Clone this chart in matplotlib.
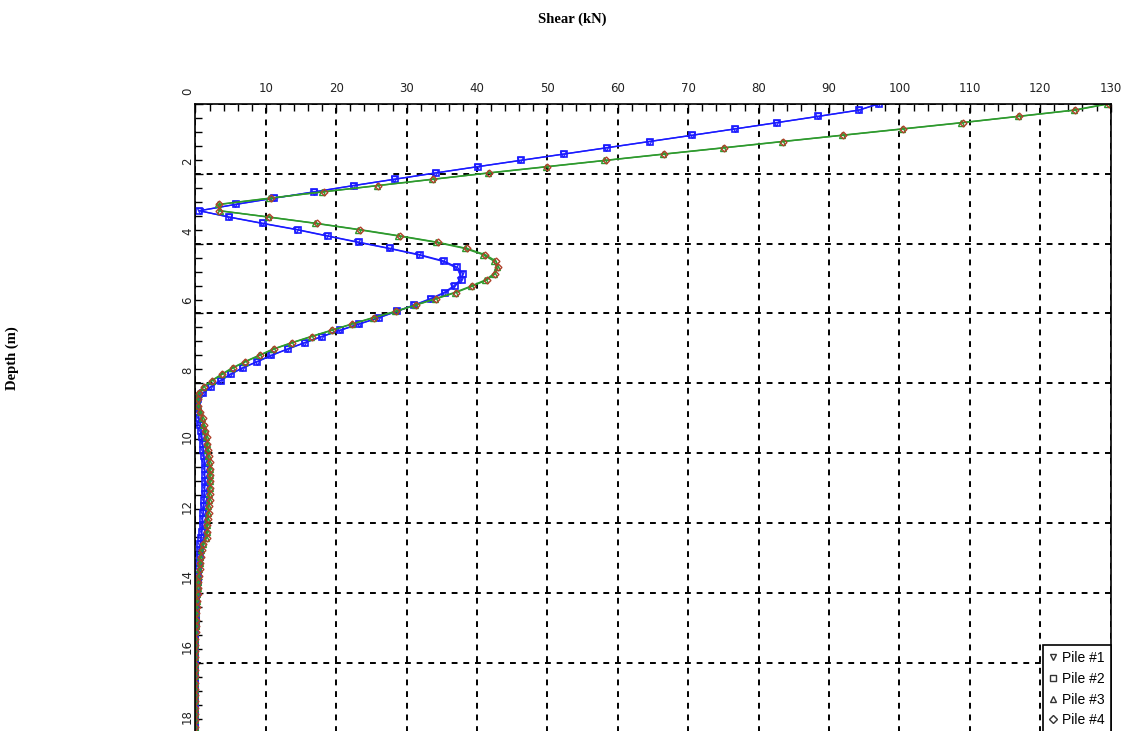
import numpy as np
import matplotlib.pyplot as plt
import matplotlib.transforms as mtransforms
from matplotlib.lines import Line2D
from matplotlib.ticker import MultipleLocator

# pile nodes: 100 equal segments over the 18 m pile
depth = np.linspace(0.0, 18.0, 101)

pile1_shear = [
    97.0, 94.2, 88.4, 82.5, 76.6, 70.5, 64.4, 58.3, 52.2, 46.1,
    40.0, 34.0, 28.2, 22.4, 16.8, 11.1, 5.6, 0.6, 4.7, 9.4,
    14.3, 18.6, 23.0, 27.5, 31.6, 35.0, 36.9, 37.7, 37.6, 36.6,
    35.3, 33.3, 31.0, 28.5, 26.0, 23.2, 20.5, 17.9, 15.4, 13.0,
    10.7, 8.7, 6.6, 4.9, 3.5, 2.1, 1.0, 0.3, 0.2, 0.3,
    0.5, 0.7, 0.8, 0.9, 1.0, 1.1, 1.2, 1.2, 1.3, 1.3,
    1.3, 1.3, 1.2, 1.2, 1.1, 1.1, 1.0, 0.9, 0.9, 0.8,
    0.7, 0.6, 0.5, 0.5, 0.4, 0.3, 0.3, 0.2, 0.2, 0.1,
    0.1, 0.1, 0.1, 0.1, 0.0, 0.0, 0.0, 0.0, 0.0, 0.0,
    0.0, 0.0, 0.0, 0.0, 0.0, 0.0, 0.0, 0.0, 0.0, 0.0,
    0.0,
]

pile2_shear = [
    97.1, 94.3, 88.5, 82.6, 76.6, 70.6, 64.5, 58.4, 52.3, 46.2,
    40.1, 34.1, 28.3, 22.5, 16.9, 11.2, 5.7, 0.5, 4.8, 9.6,
    14.5, 18.8, 23.2, 27.7, 31.9, 35.3, 37.2, 38.0, 37.8, 36.8,
    35.5, 33.5, 31.1, 28.6, 26.1, 23.3, 20.6, 18.0, 15.5, 13.1,
    10.8, 8.8, 6.7, 5.0, 3.6, 2.2, 1.1, 0.4, 0.2, 0.3,
    0.5, 0.7, 0.8, 0.9, 1.0, 1.1, 1.2, 1.3, 1.3, 1.3,
    1.4, 1.3, 1.3, 1.2, 1.2, 1.1, 1.0, 1.0, 0.9, 0.8,
    0.7, 0.6, 0.6, 0.5, 0.4, 0.4, 0.3, 0.2, 0.2, 0.1,
    0.1, 0.1, 0.1, 0.1, 0.0, 0.0, 0.0, 0.0, 0.0, 0.0,
    0.0, 0.0, 0.0, 0.0, 0.0, 0.0, 0.0, 0.0, 0.0, 0.0,
    0.0,
]

pile3_shear = [
    129.5, 124.8, 116.8, 108.8, 100.3, 91.8, 83.3, 74.9, 66.4, 58.1,
    49.8, 41.5, 33.6, 25.8, 18.0, 10.5, 3.2, 3.5, 10.3, 17.0,
    23.1, 28.8, 34.1, 38.3, 40.9, 42.4, 42.8, 42.4, 41.2, 39.1,
    36.8, 34.0, 31.2, 28.4, 25.2, 22.2, 19.3, 16.4, 13.6, 11.0,
    9.0, 7.0, 5.2, 3.7, 2.3, 1.1, 0.4, 0.2, 0.4, 0.7,
    0.9, 1.1, 1.3, 1.5, 1.6, 1.7, 1.8, 1.9, 2.0, 2.0,
    2.0, 2.0, 1.9, 1.9, 1.8, 1.8, 1.7, 1.6, 1.6, 1.5,
    1.0, 0.8, 0.7, 0.6, 0.5, 0.4, 0.3, 0.3, 0.2, 0.2,
    0.1, 0.1, 0.1, 0.1, 0.0, 0.0, 0.0, 0.0, 0.0, 0.0,
    0.0, 0.0, 0.0, 0.0, 0.0, 0.0, 0.0, 0.0, 0.0, 0.0,
    0.0,
]

pile4_shear = [
    129.8, 125.0, 117.0, 109.0, 100.5, 92.0, 83.5, 75.1, 66.6, 58.3,
    50.0, 41.7, 33.8, 26.0, 18.2, 10.7, 3.4, 3.3, 10.5, 17.2,
    23.4, 29.1, 34.4, 38.6, 41.2, 42.7, 43.0, 42.6, 41.4, 39.3,
    37.0, 34.2, 31.3, 28.5, 25.3, 22.3, 19.4, 16.5, 13.7, 11.1,
    9.1, 7.1, 5.3, 3.8, 2.4, 1.2, 0.5, 0.3, 0.4, 0.7,
    1.0, 1.2, 1.4, 1.6, 1.7, 1.8, 1.9, 2.0, 2.1, 2.1,
    2.1, 2.1, 2.0, 2.0, 1.9, 1.9, 1.8, 1.7, 1.7, 1.6,
    1.1, 0.9, 0.8, 0.7, 0.6, 0.5, 0.4, 0.3, 0.3, 0.2,
    0.2, 0.1, 0.1, 0.1, 0.1, 0.0, 0.0, 0.0, 0.0, 0.0,
    0.0, 0.0, 0.0, 0.0, 0.0, 0.0, 0.0, 0.0, 0.0, 0.0,
    0.0,
]

pile_labels = ["Pile #1", "Pile #2", "Pile #3", "Pile #4"]

x_ticks = list(range(0, 131, 10))
y_ticks = list(range(0, 19, 2))


def draw_piles(ax):

    ax.plot(pile1_shear, depth, color="#2b2bff", linewidth=1.0,
            marker="v", markersize=4, markerfacecolor="none",
            markeredgewidth=1.0)
    ax.plot(pile2_shear, depth, color="#1a1aff", linewidth=1.0,
            marker="s", markersize=5, markerfacecolor="none",
            markeredgewidth=1.2)
    ax.plot(pile3_shear, depth, color="#2e9a2e", linewidth=1.1,
            marker="^", markersize=5, markerfacecolor="none",
            markeredgewidth=1.0)
    ax.plot(pile4_shear, depth, color="#2e9a2e", linewidth=1.0,
            marker="D", markersize=3.5, markerfacecolor="none",
            markeredgecolor="#b0402a", markeredgewidth=1.0)


def style_axes(fig, ax):

    ax.set_xlim(0, 130)
    ax.set_ylim(19, 0)

    ax.xaxis.tick_top()
    ax.set_xticks(x_ticks)
    ax.set_xticklabels([""] + [str(t) for t in x_ticks[1:]])
    ax.set_yticks(y_ticks)
    ax.set_yticklabels([str(t) for t in y_ticks], rotation=90, va="bottom")

    ax.xaxis.set_minor_locator(MultipleLocator(2))
    ax.yaxis.set_minor_locator(MultipleLocator(0.4))

    ax.tick_params(axis="both", which="both", direction="in",
                   top=True, bottom=False, left=True, right=False,
                   colors="black", labelcolor="#222222",
                   labelsize=8.5, width=1.0)
    ax.tick_params(axis="both", which="major", length=6)
    ax.tick_params(axis="both", which="minor", length=5)
    ax.tick_params(axis="x", pad=6)
    ax.tick_params(axis="y", pad=1)

    # vertical labels start a little above their tick
    shift = mtransforms.ScaledTranslation(0, 9 / 100, fig.dpi_scale_trans)
    for label in ax.get_yticklabels():
        label.set_transform(label.get_transform() + shift)

    ax.grid(which="major", color="black", linestyle=(0, (3, 3)),
            linewidth=1.4)

    for side in ["top", "left", "right"]:
        ax.spines[side].set_color("black")
        ax.spines[side].set_linewidth(1.2)
    ax.spines["bottom"].set_visible(False)


def add_legend(ax):

    handles = [
        Line2D([], [], linestyle="none", marker="v", markersize=4,
               color="#333333", markerfacecolor="none"),
        Line2D([], [], linestyle="none", marker="s", markersize=4,
               color="#333333", markerfacecolor="none"),
        Line2D([], [], linestyle="none", marker="^", markersize=4,
               color="#333333", markerfacecolor="none"),
        Line2D([], [], linestyle="none", marker="D", markersize=4,
               color="#333333", markerfacecolor="none"),
    ]

    legend = ax.legend(handles, pile_labels, loc="upper left",
                       bbox_to_anchor=(0.9257, 0.185), borderaxespad=0,
                       prop={"family": "Liberation Sans", "size": 10},
                       handlelength=0.6, handletextpad=0.35,
                       labelspacing=0.48, borderpad=0.45,
                       fancybox=False, framealpha=1.0, edgecolor="black")
    legend.get_frame().set_linewidth(1.2)


def build_chart():

    fig = plt.figure(figsize=(11.24, 7.31), dpi=100)

    ax = fig.add_axes([0.1739, -0.0504, 0.8142, 0.9084])

    draw_piles(ax)
    style_axes(fig, ax)
    add_legend(ax)

    fig.text(0.509, 0.974, "Shear (kN)", ha="center", va="center",
             family="Liberation Serif", fontweight="bold", fontsize=10.5)
    fig.text(0.011, 0.51, "Depth (m)", ha="center", va="center",
             rotation=90, family="Liberation Serif", fontweight="bold",
             fontsize=10.5)

    fig.savefig("out.png", dpi=100)
    plt.close(fig)


if __name__ == "__main__":

    build_chart()
